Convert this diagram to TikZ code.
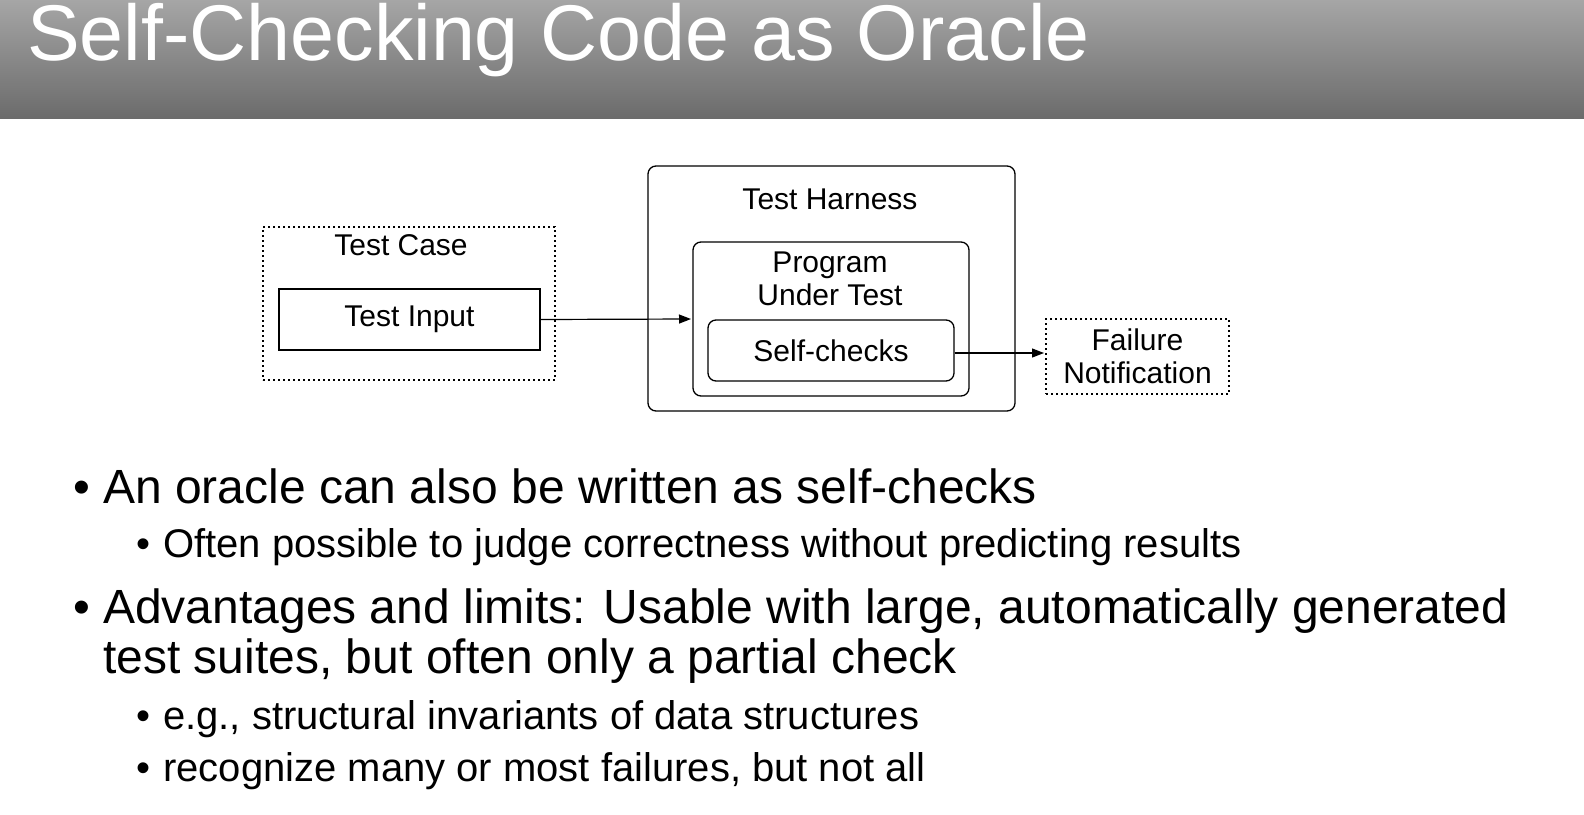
\documentclass[tikz,border=0pt]{standalone}
\usepackage{fontspec}
\setmainfont{Liberation Sans}
\usetikzlibrary{arrows.meta}
\begin{document}
\begin{tikzpicture}[x=1pt,y=-1pt,
  lbl/.style={inner sep=0pt,font=\fontsize{30}{34}\selectfont,align=center},
  box/.style={draw,line width=1.3pt,inner sep=0pt},
  dbox/.style={draw,line width=1.2pt,dash pattern=on 2pt off 3pt,inner sep=0pt},
  rbox/.style={box,rounded corners=8pt},
  arr/.style={line width=1.2pt,-{Triangle[length=12pt,width=9pt]}},
  big/.style={anchor=base west,inner sep=0pt,font=\fontsize{48}{56}\selectfont},
  small/.style={anchor=base west,inner sep=0pt,font=\fontsize{40}{46}\selectfont}]
\useasboundingbox (0,0) rectangle (1584,814);
\fill[white] (0,0) rectangle (1584,814);
\shade[top color=black!35,bottom color=black!58] (0,0) rectangle (1584,118);
\node[anchor=base west,inner sep=0pt,text=white,font=\fontsize{79}{86}\selectfont] (title) at (27,60) {Self-Checking Code as Oracle};
% diagram
\node[dbox,minimum width=292pt,minimum height=153pt] (tc) at (409,303.5) {};
\node[lbl] (tcl) at (401,245) {Test Case};
\node[box,minimum width=261pt,minimum height=61pt,lbl] (ti) at (409.5,319.5) {Test Input};
\node[rbox,minimum width=367pt,minimum height=245pt] (th) at (831.5,288.5) {};
\node[lbl] (thl) at (830,199) {Test Harness};
\node[rbox,minimum width=276pt,minimum height=154pt] (put) at (831,319) {};
\node[lbl] (putl) at (830,279) {Program\\[-1pt]Under Test};
\node[rbox,minimum width=246pt,minimum height=61pt,lbl] (sc) at (831,350.5) {Self-checks};
\node[dbox,minimum width=183pt,minimum height=75pt,lbl] (fn) at (1137.5,356.5) {Failure\\[-1pt]Notification};
\coordinate (a1) at (691,319);
\coordinate (a2) at (1044,353);
\draw[arr] (ti.east) -- (a1);
\draw[arr] (sc.east |- a2) -- (a2);
% bullets
\node[big] (b1) at (73,503) {\textbullet};
\node[big] (t1) at (103,503) {An oracle can also be written as self-checks};
\node[small] (b1a) at (136,557) {\textbullet};
\node[small] (t1a) at (163,557) {Often possible to judge correctness without predicting results};
\node[big] (b2) at (73,623) {\textbullet};
\node[big] (t2) at (103,623) {Advantages and limits: Usable with large, automatically generated};
\node[big] (t2b) at (103,673) {test suites, but often only a partial check};
\node[small] (b2a) at (136,729) {\textbullet};
\node[small] (t2a) at (163,729) {e.g., structural invariants of data structures};
\node[small] (b2b) at (136,781) {\textbullet};
\node[small] (t2c) at (163,781) {recognize many or most failures, but not all};
\end{tikzpicture}
\end{document}
